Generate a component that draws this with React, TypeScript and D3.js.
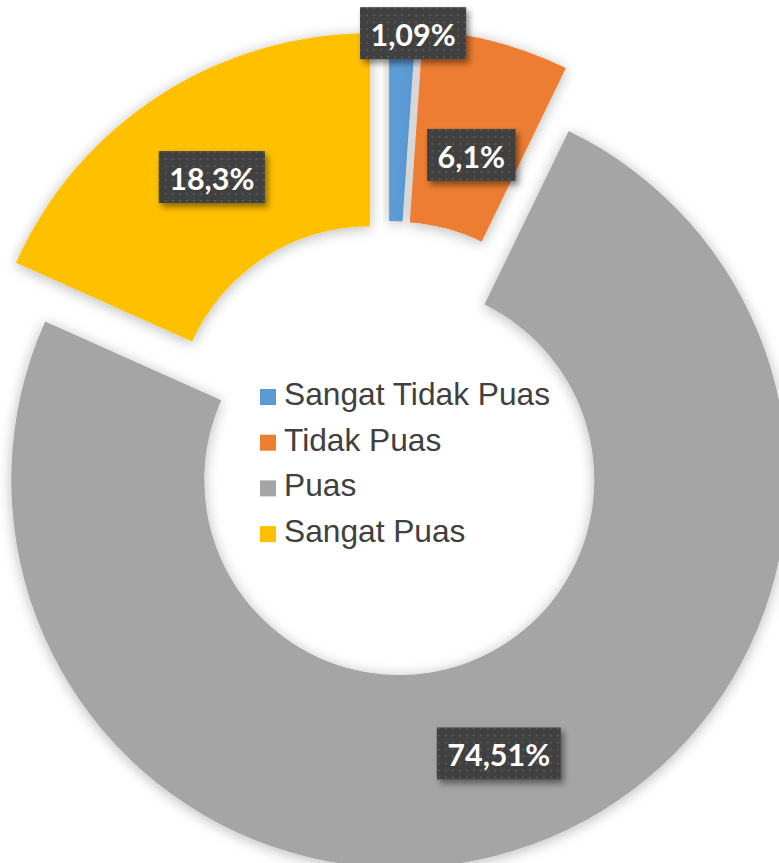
import React, { useEffect, useRef } from "react";
import * as d3 from "d3";

const categories = ["Sangat Tidak Puas", "Tidak Puas", "Puas", "Sangat Puas"];
const values = [1.09, 6.1, 74.51, 18.3];
const valueLabels = ["1,09%", "6,1%", "74,51%", "18,3%"];
const colors = ["#5B9BD5", "#ED7D31", "#A5A5A5", "#FFC000"];

// layout constants
const W = 779;
const H = 863;
const CX = 388;
const CY = 449;
const R_OUT = 388;
const R_IN = 195;
const EXPLODE = 33;
const LABEL_R = 291;
const LABEL_NUDGE: [number, number][] = [[14, -92], [0, 19], [0, 0], [0, 0]];

export default function App() {
  const ref = useRef<SVGSVGElement>(null);
  useEffect(() => {
    const svg = d3.select(ref.current);
    svg.selectAll("*").remove();
    const defs = svg.append("defs");
    const sh = defs.append("filter").attr("id", "sliceShadow").attr("x", "-20%").attr("y", "-20%").attr("width", "140%").attr("height", "140%");
    sh.append("feDropShadow").attr("dx", 0).attr("dy", 2).attr("stdDeviation", 7).attr("flood-color", "#000").attr("flood-opacity", 0.28);
    const lsh = defs.append("filter").attr("id", "labelShadow").attr("x", "-20%").attr("y", "-30%").attr("width", "150%").attr("height", "170%");
    lsh.append("feDropShadow").attr("dx", 3).attr("dy", 4).attr("stdDeviation", 3).attr("flood-color", "#000").attr("flood-opacity", 0.45);
    const pat = defs.append("pattern").attr("id", "dots").attr("width", 7).attr("height", 7).attr("patternUnits", "userSpaceOnUse");
    pat.append("rect").attr("width", 7).attr("height", 7).attr("fill", "#404040");
    pat.append("rect").attr("x", 2).attr("y", 2).attr("width", 2).attr("height", 2).attr("fill", "#565656");

    const pie = d3.pie<number>().sort(null).value((d) => d).startAngle(0).endAngle(2 * Math.PI);
    const arcs = pie(values);
    const arc = d3.arc<d3.PieArcDatum<number>>().innerRadius(R_IN).outerRadius(R_OUT);

    const g = svg.append("g").attr("transform", `translate(${CX},${CY})`);
    const off = (a: d3.PieArcDatum<number>) => {
      const m = (a.startAngle + a.endAngle) / 2;
      return [Math.sin(m) * EXPLODE, -Math.cos(m) * EXPLODE];
    };
    g.selectAll("path.slice")
      .data(arcs)
      .join("path")
      .attr("class", "slice")
      .attr("d", (d) => arc(d) as string)
      .attr("fill", (d, i) => colors[i])
      .attr("filter", "url(#sliceShadow)")
      .attr("transform", (d) => {
        const [x, y] = off(d);
        return `translate(${x},${y})`;
      });

    // legend
    const lg = svg.append("g").attr("transform", "translate(260,405)");
    categories.forEach((c, i) => {
      const row = lg.append("g").attr("transform", `translate(0,${i * 45.7})`);
      row.append("rect").attr("x", 0).attr("y", -16).attr("width", 16).attr("height", 16).attr("fill", colors[i]);
      row.append("text").attr("x", 24).attr("y", 0).attr("font-family", "'Liberation Sans', Arial, sans-serif").attr("font-size", 31.7).attr("fill", "#404040").text(c);
    });

    // data labels
    arcs.forEach((a, i) => {
      const m = (a.startAngle + a.endAngle) / 2;
      const [ox, oy] = off(a);
      const x = CX + ox + Math.sin(m) * LABEL_R + LABEL_NUDGE[i][0];
      const y = CY + oy - Math.cos(m) * LABEL_R + LABEL_NUDGE[i][1];
      const lgp = svg.append("g").attr("transform", `translate(${x},${y})`);
      const box = lgp.append("rect").attr("fill", "url(#dots)").attr("filter", "url(#labelShadow)");
      const t = lgp.append("text").attr("text-anchor", "middle").attr("dominant-baseline", "central").attr("y", 1)
        .attr("font-family", "Lato, 'Open Sans', sans-serif").attr("font-weight", 700).attr("font-size", 30.5).attr("fill", "#fff").text(valueLabels[i]);
      const bb = (t.node() as SVGTextElement).getBBox();
      const bw = bb.width + 21;
      const bh = 52;
      box.attr("x", -bw / 2).attr("y", -bh / 2).attr("width", bw).attr("height", bh);
    });
  }, []);
  return (
    <svg ref={ref} width={W} height={H} style={{ position: "absolute", left: 0, top: 0, background: "#fff" }} />
  );
}
